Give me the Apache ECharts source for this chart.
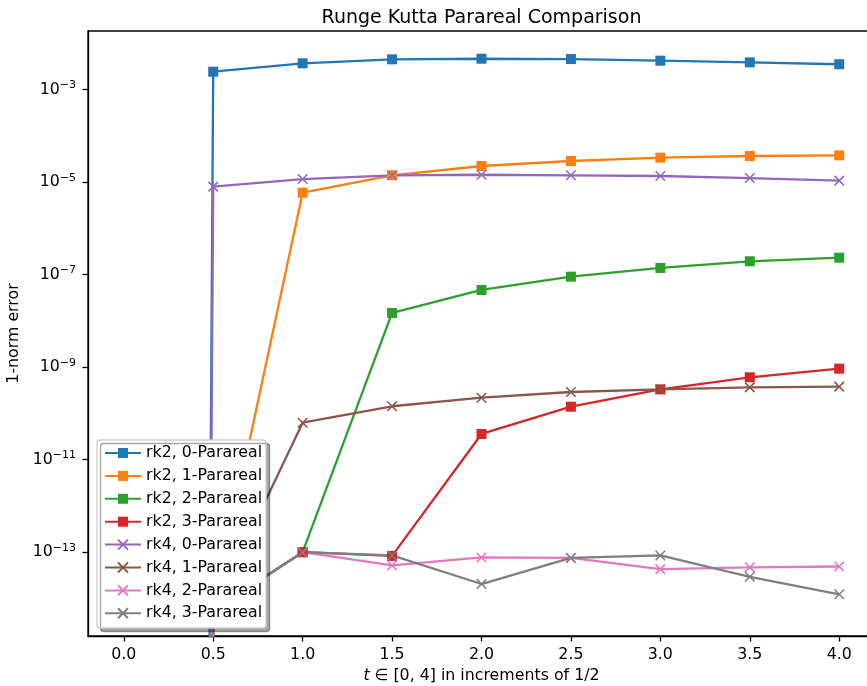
<!DOCTYPE html>
<html>
<head>
<meta charset="utf-8">
<title>Runge Kutta Parareal Comparison</title>
<script src="https://cdn.jsdelivr.net/npm/echarts@6/dist/echarts.min.js"></script>
<style>
  html, body { margin: 0; padding: 0; background: #ffffff; }
  #chart { width: 867px; height: 686px; }
</style>
</head>
<body>
<div id="chart"></div>
<script>
// Time points t in [0, 4], step 1/2
const tValues = [0, 0.5, 1.0, 1.5, 2.0, 2.5, 3.0, 3.5, 4.0];

// 1-norm error per time point for each solver / Parareal iteration count
const rk2Parareal0 = [0, 2.45e-3, 3.72e-3, 4.54e-3, 4.67e-3, 4.60e-3, 4.24e-3, 3.90e-3, 3.55e-3];
const rk2Parareal1 = [0, 5.5e-15, 5.93e-6, 1.41e-5, 2.24e-5, 2.87e-5, 3.39e-5, 3.68e-5, 3.80e-5];
const rk2Parareal2 = [0, 5.5e-15, 1.0e-13, 1.49e-8, 4.67e-8, 9.06e-8, 1.40e-7, 1.95e-7, 2.33e-7];
const rk2Parareal3 = [0, 5.5e-15, 1.0e-13, 8.3e-14, 3.6e-11, 1.40e-10, 3.32e-10, 6.05e-10, 9.3e-10];
const rk4Parareal0 = [0, 8.0e-6, 1.17e-5, 1.41e-5, 1.45e-5, 1.41e-5, 1.36e-5, 1.23e-5, 1.08e-5];
const rk4Parareal1 = [0, 5.5e-15, 6.3e-11, 1.43e-10, 2.19e-10, 2.91e-10, 3.32e-10, 3.67e-10, 3.79e-10];
const rk4Parareal2 = [0, 5.5e-15, 1.0e-13, 5.2e-14, 7.7e-14, 7.5e-14, 4.3e-14, 4.7e-14, 4.9e-14];
const rk4Parareal3 = [0, 5.5e-15, 1.0e-13, 8.5e-14, 2.05e-14, 7.5e-14, 8.5e-14, 2.94e-14, 1.23e-14];

// Axis tick positions
const xTicks = [0, 0.5, 1.0, 1.5, 2.0, 2.5, 3.0, 3.5, 4.0];
const yTicks = [1e-13, 1e-11, 1e-9, 1e-7, 1e-5, 1e-3];

const FONT = 'DejaVu Sans';
const LOG_FLOOR = 1e-300;   // zero errors are clipped to this on the log axis
const CROSS = 'path://M0,0L1,1M1,0L0,1';

const seriesDefs = [
  { name: 'rk2, 0-Parareal', values: rk2Parareal0, color: '#1f77b4', marker: 'square' },
  { name: 'rk2, 1-Parareal', values: rk2Parareal1, color: '#ff7f0e', marker: 'square' },
  { name: 'rk2, 2-Parareal', values: rk2Parareal2, color: '#2ca02c', marker: 'square' },
  { name: 'rk2, 3-Parareal', values: rk2Parareal3, color: '#d62728', marker: 'square' },
  { name: 'rk4, 0-Parareal', values: rk4Parareal0, color: '#9467bd', marker: 'cross' },
  { name: 'rk4, 1-Parareal', values: rk4Parareal1, color: '#8c564b', marker: 'cross' },
  { name: 'rk4, 2-Parareal', values: rk4Parareal2, color: '#e377c2', marker: 'cross' },
  { name: 'rk4, 3-Parareal', values: rk4Parareal3, color: '#7f7f7f', marker: 'cross' }
];

function toPoints(values) {
  return tValues.map((t, i) => [t, values[i] > 0 ? values[i] : LOG_FLOOR]);
}

const series = seriesDefs.map(def => {
  const isSquare = def.marker === 'square';
  return {
    type: 'line',
    name: def.name,
    data: toPoints(def.values),
    symbol: isSquare ? 'rect' : CROSS,
    symbolSize: isSquare ? 10 : 9.5,
    showSymbol: true,
    clip: true,
    lineStyle: { color: def.color, width: 2.3 },
    itemStyle: isSquare
      ? { color: def.color, borderWidth: 0 }
      : { color: def.color, borderColor: def.color, borderWidth: 1.6 },
    emphasis: { disabled: true },
    animation: false
  };
});

const chart = echarts.init(document.getElementById('chart'), null, { renderer: 'canvas' });

chart.setOption({
  animation: false,
  backgroundColor: '#ffffff',
  title: {
    text: 'Runge Kutta Parareal Comparison',
    left: 476.5,
    textAlign: 'center',
    top: 4,
    textStyle: { fontFamily: FONT, fontSize: 19, fontWeight: 'normal', color: '#000000' }
  },
  grid: {
    left: 88, top: 31, right: -8, bottom: 50,
    show: true, borderColor: '#000000', borderWidth: 1.3,
    containLabel: false, outerBoundsMode: 'none'
  },
  legend: {
    orient: 'vertical',
    left: 97,
    bottom: 58,
    itemWidth: 36,
    itemHeight: 12.5,
    itemGap: 6.9,
    padding: [5, 4, 6.7, 7],
    backgroundColor: '#ffffff',
    borderColor: '#cccccc',
    borderWidth: 1.3,
    borderRadius: 3,
    shadowColor: 'rgba(0,0,0,0.35)',
    shadowBlur: 0,
    shadowOffsetX: 3.5,
    shadowOffsetY: 3.5,
    textStyle: { fontFamily: FONT, fontSize: 15.8, lineHeight: 16, color: '#000000' },
    data: seriesDefs.map(d => d.name)
  },
  xAxis: {
    type: 'value',
    min: -0.2,
    max: 4.2,
    axisLine: { show: true, onZero: false, lineStyle: { color: '#000000', width: 1.3 } },
    axisTick: { show: true, length: 5.5, lineStyle: { color: '#000000', width: 1.3 }, customValues: xTicks },
    axisLabel: {
      customValues: xTicks,
      margin: 11,
      fontFamily: FONT, fontSize: 15.8, color: '#000000',
      formatter: v => v.toFixed(1)
    },
    splitLine: { show: false },
    name: '{i|t}{r| \u2208 [0, 4] in increments of 1/2}',
    nameLocation: 'middle',
    nameGap: 31,
    nameTextStyle: {
      rich: {
        i: { fontFamily: FONT, fontSize: 15.8, fontStyle: 'italic', color: '#000000' },
        r: { fontFamily: FONT, fontSize: 15.8, color: '#000000' }
      }
    }
  },
  yAxis: {
    type: 'log',
    logBase: 10,
    min: Math.pow(10, -14.812),
    max: Math.pow(10, -1.731),
    axisLine: { show: true, onZero: false, lineStyle: { color: '#000000', width: 1.3 } },
    axisTick: { show: true, length: 5.5, lineStyle: { color: '#000000', width: 1.3 }, customValues: yTicks },
    minorTick: { show: false },
    splitLine: { show: false },
    axisLabel: {
      customValues: yTicks,
      margin: 12,
      formatter: v => '{b|10}{s|\u2212' + Math.abs(Math.round(Math.log10(v))) + '}',
      rich: {
        b: { fontFamily: FONT, fontSize: 15.8, lineHeight: 20, color: '#000000' },
        s: { fontFamily: FONT, fontSize: 11, lineHeight: 11, verticalAlign: 'top', color: '#000000' }
      }
    },
    name: '1-norm error',
    nameLocation: 'middle',
    nameGap: 54,
    nameRotate: 90,
    nameTextStyle: { fontFamily: FONT, fontSize: 15.8, color: '#000000' }
  },
  series: series
});
</script>
</body>
</html>
